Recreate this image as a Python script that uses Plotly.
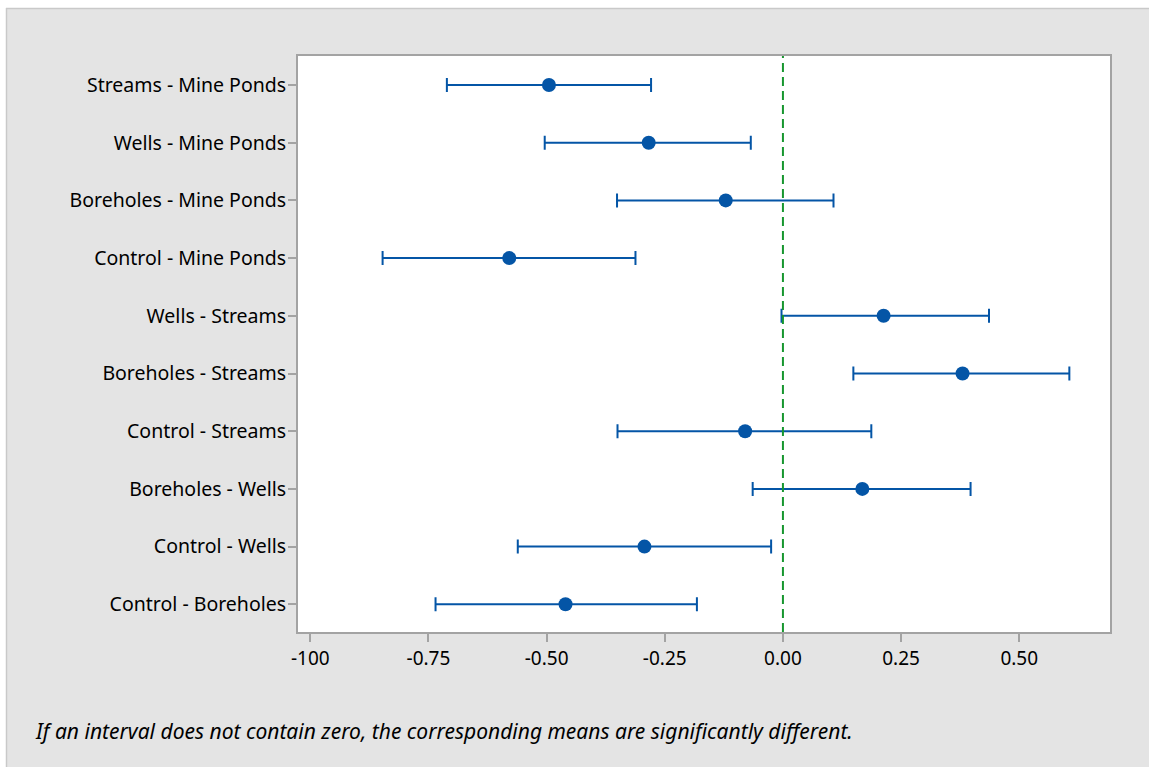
import plotly.graph_objects as go

# Pairwise differences of means with 95% simultaneous confidence intervals
comparisons = [
    "Streams - Mine Ponds",
    "Wells - Mine Ponds",
    "Boreholes - Mine Ponds",
    "Control - Mine Ponds",
    "Wells - Streams",
    "Boreholes - Streams",
    "Control - Streams",
    "Boreholes - Wells",
    "Control - Wells",
    "Control - Boreholes",
]
diff_center = [-0.495, -0.284, -0.121, -0.579, 0.213, 0.380, -0.080, 0.168, -0.293, -0.460]
diff_lower = [-0.711, -0.504, -0.351, -0.847, -0.003, 0.149, -0.350, -0.064, -0.561, -0.735]
diff_upper = [-0.279, -0.068, 0.107, -0.312, 0.436, 0.606, 0.187, 0.397, -0.025, -0.182]

x_tickvals = [-1.0, -0.75, -0.5, -0.25, 0.0, 0.25, 0.5]
x_ticktext = ["-100", "-0.75", "-0.50", "-0.25", "0.00", "0.25", "0.50"]

note = "If an interval does not contain zero, the corresponding means are significantly different."

W, H = 1149, 767
L, R, T, B = 298, 39, 56, 135
plot_w = W - L - R
plot_h = H - T - B


def px_x(px):
    return (px - L) / plot_w


def px_y(py):
    return (H - B - py) / plot_h


rows = list(range(len(comparisons)))
blue = "#0455a6"
axis_gray = "#a3a3a3"
font_family = "Noto Sans, Open Sans, sans-serif"

fig = go.Figure()

fig.add_trace(go.Scatter(
    x=diff_center,
    y=rows,
    mode="markers",
    marker=dict(color=blue, size=14, line=dict(width=0)),
    error_x=dict(
        type="data",
        symmetric=False,
        array=[u - c for u, c in zip(diff_upper, diff_center)],
        arrayminus=[c - lo for c, lo in zip(diff_center, diff_lower)],
        color=blue,
        thickness=2,
        width=7,
    ),
    showlegend=False,
    hoverinfo="skip",
))

shapes = [
    # reference line at zero difference
    dict(type="line", xref="x", yref="paper", x0=0, x1=0, y0=0, y1=1,
         line=dict(color="#17962f", width=2, dash="9px,5px"), layer="above"),
    # white margin outside the grey panel
    dict(type="rect", xref="paper", yref="paper",
         x0=px_x(-5), x1=px_x(6), y0=px_y(H + 5), y1=px_y(-5),
         fillcolor="white", line=dict(width=0), layer="below"),
    dict(type="rect", xref="paper", yref="paper",
         x0=px_x(-5), x1=px_x(W + 5), y0=px_y(8), y1=px_y(-5),
         fillcolor="white", line=dict(width=0), layer="below"),
    # panel border
    dict(type="line", xref="paper", yref="paper",
         x0=px_x(6.5), x1=px_x(6.5), y0=px_y(8), y1=px_y(H + 5),
         line=dict(color="#c9c9c9", width=1.5), layer="below"),
    dict(type="line", xref="paper", yref="paper",
         x0=px_x(6), x1=px_x(W + 5), y0=px_y(8.5), y1=px_y(8.5),
         line=dict(color="#c9c9c9", width=1.5), layer="below"),
]

fig.update_layout(
    width=W,
    height=H,
    margin=dict(l=L, r=R, t=T, b=B, pad=0),
    paper_bgcolor="#e4e4e4",
    plot_bgcolor="white",
    font=dict(family=font_family, size=19, color="#000000"),
    shapes=shapes,
    annotations=[dict(
        text=f"<i>{note}</i>",
        xref="paper", yref="paper",
        x=px_x(33), y=px_y(731),
        xanchor="left", yanchor="middle",
        showarrow=False,
        font=dict(family=font_family, size=21, color="#000000"),
    )],
    xaxis=dict(
        range=[-1.026, 0.692],
        tickvals=x_tickvals,
        ticktext=x_ticktext,
        showgrid=False,
        zeroline=False,
        showline=True,
        mirror=True,
        linecolor=axis_gray,
        linewidth=2,
        ticks="outside",
        ticklen=8,
        tickwidth=2,
        tickcolor=axis_gray,
        tickfont=dict(size=19, color="#000000"),
    ),
    yaxis=dict(
        range=[9.48, -0.503],
        tickvals=rows,
        ticktext=comparisons,
        showgrid=False,
        zeroline=False,
        showline=True,
        mirror=True,
        linecolor=axis_gray,
        linewidth=2,
        ticks="outside",
        ticklen=8,
        tickwidth=2,
        tickcolor=axis_gray,
        tickfont=dict(size=19.5, color="#000000"),
        ticklabelstandoff=-2,
    ),
)

fig.write_html("out.html")
